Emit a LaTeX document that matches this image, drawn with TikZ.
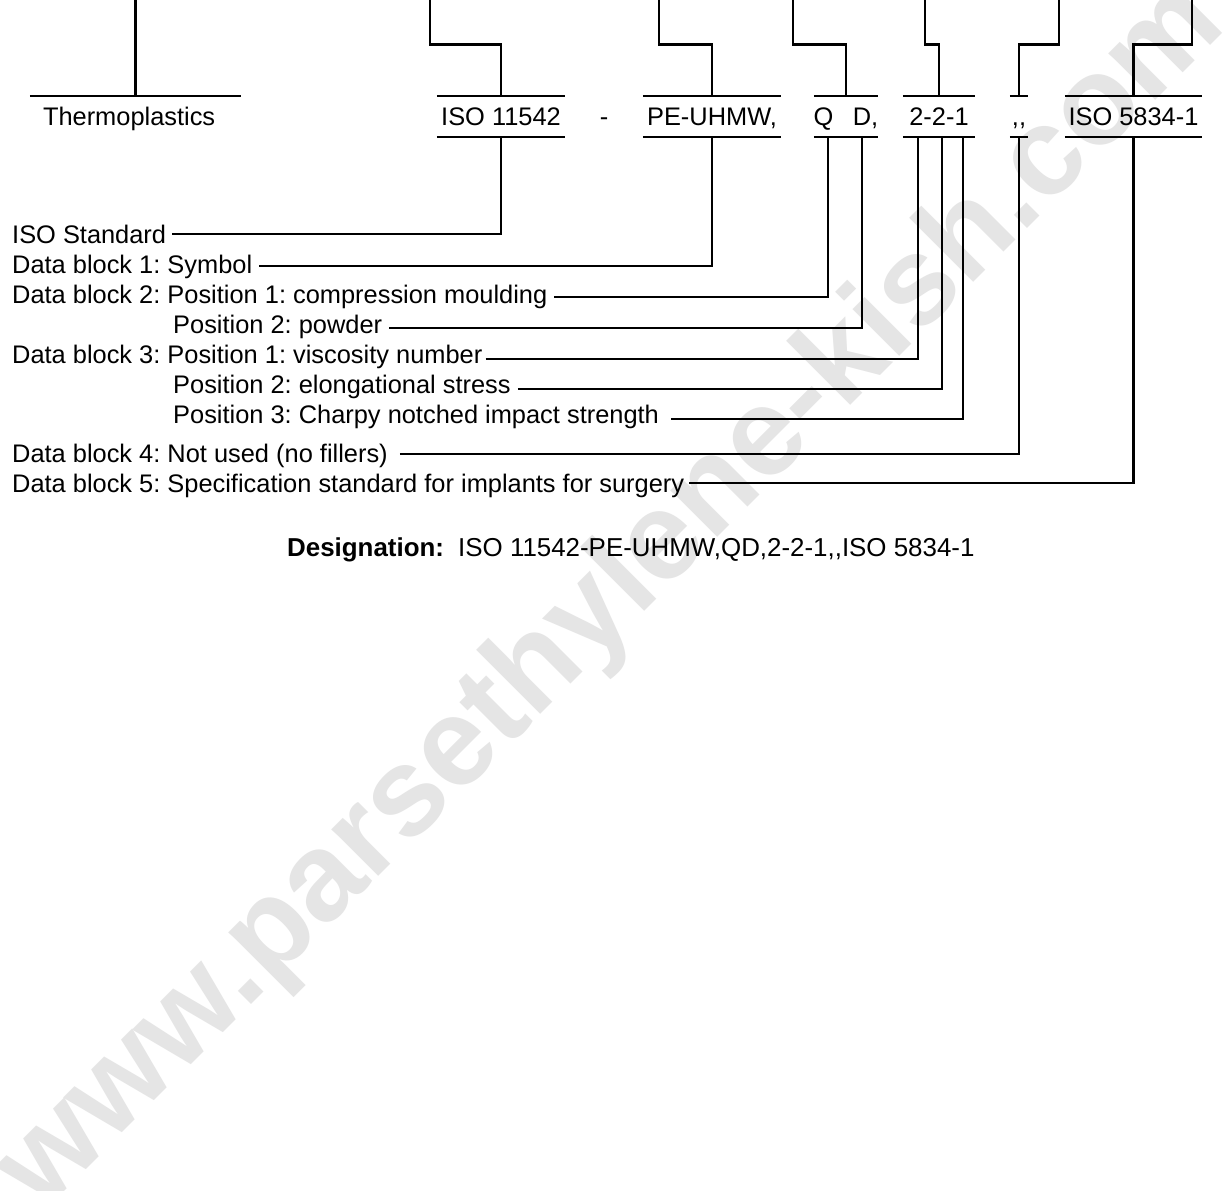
\documentclass[tikz,border=0pt]{standalone}
\usepackage{fontspec}
\setmainfont{Liberation Sans}
\newcommand{\fs}{\fontsize{25.4}{28}\selectfont}
\newcommand{\fsd}{\fontsize{25.9}{28}\selectfont}
\newcommand{\wmfont}{\fontsize{125}{125}\selectfont\bfseries}
\definecolor{wm}{RGB}{229,229,229}
\frenchspacing
\begin{document}
\begin{tikzpicture}[x=1pt,y=-1pt,
  ln/.style={line width=2.2pt},
  item/.style={inner sep=0pt, minimum height=40pt, text height=18pt, text depth=0pt, font=\fs},
  lab/.style={anchor=base west, inner sep=0pt, text height=18pt, text depth=0pt, font=\fs}]
\useasboundingbox (0,0) rectangle (1224,1191);
\fill[white] (0,0) rectangle (1224,1191);
% watermark
\node[rotate=45, text=wm, font=\wmfont, inner sep=0pt] (wm) at (612,598) {www.parsethylene-kish.com};

\coordinate (top) at (0,0);
\coordinate (elb) at (0,44.5);
\coordinate (tiso) at (430,0);
\coordinate (tpe) at (659,0);
\coordinate (tqd) at (793,0);
\coordinate (t221top) at (925,0);
\coordinate (tcc) at (1059,0);
\coordinate (tiso2) at (1192,0);

% designation items
\node[item, minimum width=211pt, text width=185pt, inner xsep=13pt, align=left] (thermo) at (135.5,116.5) {Thermoplastics};
\node[item, minimum width=128pt] (iso) at (501,116.5) {ISO 11542};
\node[item] (dash) at (604,116.5) {-};
\node[item, minimum width=138pt] (pe) at (712,116.5) {PE-UHMW,};
\node[item, minimum width=64pt] (qd) at (846,116.5) {};
\node[item] (q) at (823.5,116.5) {Q};
\node[item] (d) at (865.5,116.5) {D,};
\node[item, minimum width=72pt] (t221) at (939,116.5) {2-2-1};
\node[item, minimum width=18pt] (cc) at (1019,116.5) {,{},};
\node[item, minimum width=137pt] (iso2) at (1133.5,116.5) {ISO 5834-1};

% bars
\draw[ln] (thermo.north west) -- (thermo.north east);
\foreach \n in {iso,pe,qd,t221,cc,iso2}{
  \draw[ln] (\n.north west) -- (\n.north east);
  \draw[ln] (\n.south west) -- (\n.south east);
}

% top connectors
\draw[ln] (thermo.north) -- (thermo.north |- top);
\draw[ln] (iso.north) -- (iso.north |- elb) -| (tiso);
\draw[ln] (pe.north) -- (pe.north |- elb) -| (tpe);
\draw[ln] (qd.north) -- (qd.north |- elb) -| (tqd);
\draw[ln] (t221.north) -- (t221.north |- elb) -| (t221top);
\draw[ln] (cc.north) -- (cc.north |- elb) -| (tcc);
\draw[ln] (iso2.north) -- (iso2.north |- elb) -| (tiso2);

% labels
\node[lab] (l1) at (12,243) {ISO Standard};
\node[lab] (l2) at (12,273) {Data block 1: Symbol};
\node[lab] (l3) at (12,303) {Data block 2: Position 1: compression moulding};
\node[lab] (l4) at (173,333) {Position 2: powder};
\node[lab] (l5) at (12,363) {Data block 3: Position 1: viscosity number};
\node[lab] (l6) at (173,393) {Position 2: elongational stress};
\node[lab] (l7) at (173,423) {Position 3: Charpy notched impact strength};
\node[lab] (l8) at (12,462) {Data block 4: Not used (no fillers)};
\node[lab] (l9) at (12,492) {Data block 5: Specification standard for implants for surgery};

% label connectors
\draw[ln] ([shift={(6,0)}]l1.east) -| (iso.south);
\draw[ln] ([shift={(7,2)}]l2.east) -| (pe.south);
\draw[ln] ([shift={(7,3)}]l3.east) -| ([xshift=-18pt]qd.south);
\draw[ln] ([shift={(7,4)}]l4.east) -| ([xshift=16pt]qd.south);
\draw[ln] ([shift={(3,5)}]l5.east) -| ([xshift=-21pt]t221.south);
\draw[ln] ([shift={(7,5)}]l6.east) -| ([xshift=3pt]t221.south);
\draw[ln] ([shift={(12,5)}]l7.east) -| ([xshift=24pt]t221.south);
\draw[ln] ([shift={(12,1)}]l8.east) -| (cc.south);
\draw[ln] ([shift={(5,0)}]l9.east) -| (iso2.south);

% designation line
\node[lab, font=\fsd\bfseries] (des) at (287,556) {Designation:};
\node[lab, font=\fsd] (desv) at (458,556) {ISO 11542-PE-UHMW,QD,2-2-1,{},ISO 5834-1};
\end{tikzpicture}
\end{document}
